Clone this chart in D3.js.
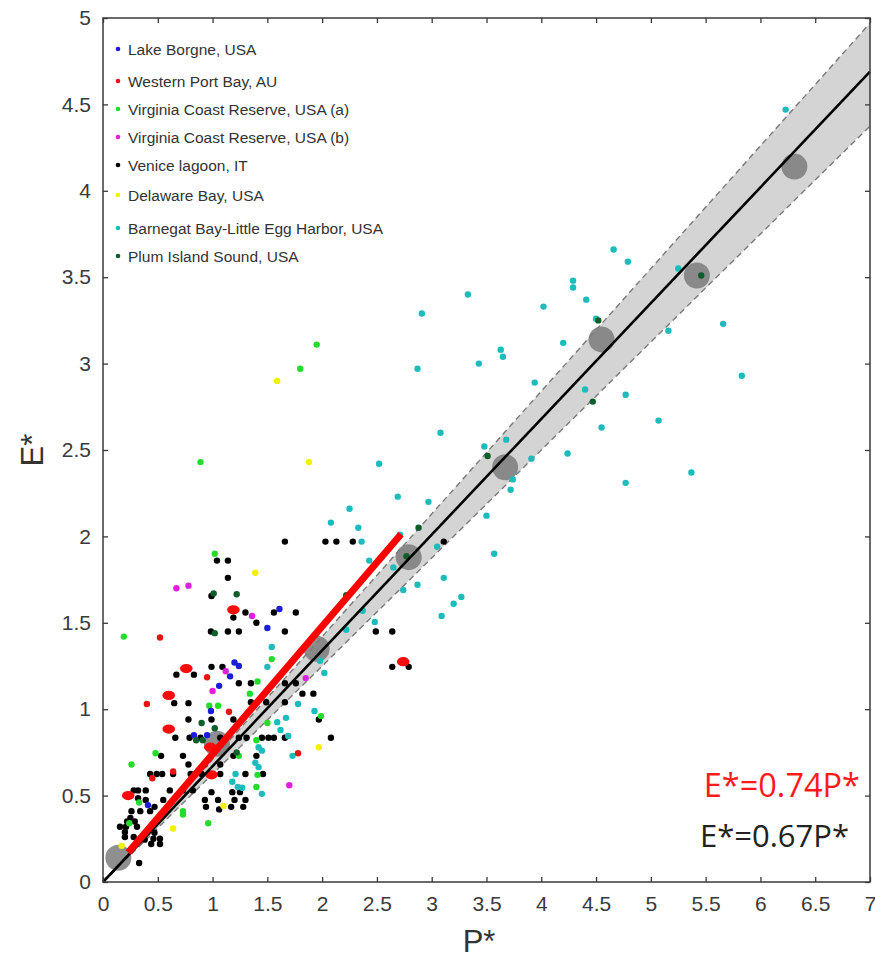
<!DOCTYPE html>
<html>
<head>
<meta charset="utf-8">
<script src="https://cdn.jsdelivr.net/npm/d3@7"></script>
<style>
  body { margin: 0; background: #fff; }
  svg { display: block; }
  text { font-family: "Liberation Sans", Arial, sans-serif; }
</style>
</head>
<body>
<svg id="chart" width="875" height="958"></svg>
<script>
// ---- tick values ----
const xTicks = [0, 0.5, 1, 1.5, 2, 2.5, 3, 3.5, 4, 4.5, 5, 5.5, 6, 6.5, 7];
const yTicks = [0, 0.5, 1, 1.5, 2, 2.5, 3, 3.5, 4, 4.5, 5];

// ---- site observations [P*, E*] ----
const lakeBorgne = [
  [1.61, 1.58], [1.50, 1.47], [1.20, 1.27], [1.16, 1.19], [1.06, 1.135],
  [0.985, 0.99], [0.83, 0.85], [0.95, 0.85], [0.41, 0.445], [1.24, 1.25]
];
const westernPort = [
  [0.52, 1.415], [0.95, 1.185], [0.40, 1.03], [1.15, 0.985], [1.78, 0.745],
  [0.64, 0.64], [0.45, 0.60]
];
const westernPortLarge = [
  [1.19, 1.575], [0.76, 1.235], [0.60, 1.08], [0.60, 0.885], [0.98, 0.78],
  [0.99, 0.62], [0.23, 0.50], [2.74, 1.275]
];
const virginiaA = [
  [1.02, 1.90], [1.95, 3.11], [1.80, 2.97], [0.89, 2.43], [0.19, 1.42],
  [1.54, 1.29], [1.41, 1.16], [1.34, 1.09], [0.97, 1.02], [1.05, 1.02],
  [1.99, 0.96], [1.50, 0.92], [1.40, 0.82], [0.48, 0.745], [1.24, 0.73],
  [0.26, 0.68], [1.41, 0.62], [1.40, 0.55], [0.33, 0.46], [0.73, 0.41],
  [0.73, 0.39], [0.96, 0.34], [0.24, 0.34]
];
const virginiaB = [
  [0.67, 1.70], [0.78, 1.715], [1.36, 1.54], [1.12, 1.22], [1.00, 1.105],
  [1.85, 1.18], [1.70, 0.56]
];
const venice = [
  [1.66, 1.97], [2.03, 1.97], [2.13, 1.97], [2.28, 1.97], [3.11, 1.97],
  [1.04, 1.86], [1.14, 1.86], [1.14, 1.76], [0.99, 1.655],
  [1.30, 1.56], [1.56, 1.56], [1.76, 1.56], [1.19, 1.53], [1.40, 1.50],
  [0.985, 1.45], [1.14, 1.45], [1.24, 1.45], [1.66, 1.45], [2.49, 1.45], [2.64, 1.45],
  [0.99, 1.245], [1.09, 1.245], [2.64, 1.245], [2.79, 1.245],
  [0.67, 1.20], [0.83, 1.20],
  [1.24, 1.15], [1.35, 1.15], [1.66, 1.15], [1.76, 1.15],
  [1.82, 1.09], [1.92, 1.09],
  [0.65, 1.035], [0.78, 1.035], [1.35, 1.04], [1.49, 1.04], [1.66, 1.04],
  [1.97, 0.94], [0.78, 0.94], [0.99, 0.94], [1.19, 0.94], [1.24, 0.92],
  [0.66, 0.835], [0.79, 0.835], [0.89, 0.835], [1.07, 0.835], [1.24, 0.835],
  [1.31, 0.835], [1.45, 0.835], [1.51, 0.835], [1.56, 0.835], [1.66, 0.835], [2.08, 0.835],
  [0.53, 0.73], [0.73, 0.73], [1.19, 0.73], [1.40, 0.73],
  [0.78, 0.68], [1.07, 0.68],
  [0.43, 0.625], [0.49, 0.625], [0.54, 0.625], [0.64, 0.625], [0.80, 0.625],
  [0.90, 0.625], [1.07, 0.625], [1.30, 0.625], [1.46, 0.625],
  [0.28, 0.53], [0.32, 0.53], [0.39, 0.53], [0.61, 0.53], [0.73, 0.53],
  [0.82, 0.53], [0.99, 0.52], [1.18, 0.52], [1.25, 0.52],
  [0.32, 0.485], [0.39, 0.475], [0.55, 0.475], [0.93, 0.475], [1.05, 0.475],
  [1.20, 0.475], [1.30, 0.475],
  [0.26, 0.41], [0.34, 0.41], [0.43, 0.41], [0.47, 0.435],
  [0.94, 0.435], [1.17, 0.435], [1.28, 0.435], [1.06, 0.42],
  [0.25, 0.37], [0.22, 0.35], [0.29, 0.35],
  [0.155, 0.32], [0.21, 0.32], [0.31, 0.32],
  [0.20, 0.29], [0.40, 0.29], [0.47, 0.285],
  [0.20, 0.26], [0.28, 0.26],
  [0.38, 0.245], [0.46, 0.25], [0.52, 0.25], [0.52, 0.22], [0.44, 0.22],
  [0.33, 0.11]
];
const delaware = [
  [1.39, 1.79], [1.59, 2.90], [1.88, 2.43], [1.97, 0.78], [1.10, 0.44],
  [0.64, 0.31], [0.17, 0.21]
];
const barnegat = [
  [6.23, 4.47], [4.66, 3.66], [4.79, 3.59], [5.25, 3.55], [4.29, 3.48],
  [4.29, 3.44], [3.33, 3.40], [4.41, 3.37], [4.02, 3.33], [2.91, 3.29],
  [4.20, 3.12], [5.66, 3.23], [4.50, 3.26], [5.16, 3.19], [3.63, 3.08],
  [3.65, 3.04], [3.43, 3.00], [2.87, 2.97], [5.83, 2.93], [3.94, 2.89],
  [4.40, 2.85], [4.77, 2.82], [5.07, 2.67], [4.55, 2.63], [3.08, 2.60],
  [3.48, 2.52], [3.68, 2.56], [2.52, 2.42], [4.24, 2.48], [3.91, 2.45],
  [3.74, 2.33], [3.72, 2.27], [4.77, 2.31], [5.37, 2.37], [2.69, 2.23],
  [2.97, 2.20], [2.25, 2.16], [2.08, 2.08], [2.33, 2.05], [3.50, 2.12],
  [2.36, 1.97], [2.71, 2.01], [3.05, 1.94], [3.57, 1.90], [2.43, 1.86],
  [2.65, 1.82], [3.11, 1.76], [2.74, 1.69], [2.87, 1.72], [3.27, 1.65],
  [3.20, 1.61], [3.09, 1.54], [2.37, 1.57], [2.48, 1.505], [2.22, 1.46],
  [2.02, 1.21], [1.98, 1.28],
  [1.54, 1.36], [1.50, 1.245], [1.78, 1.03], [1.93, 0.99], [1.59, 0.925],
  [1.67, 0.95], [1.62, 0.88], [1.69, 0.845], [1.73, 0.73], [1.42, 0.78],
  [1.45, 0.76], [1.39, 0.69], [1.42, 0.665], [1.21, 0.625], [1.18, 0.58],
  [1.23, 0.55], [1.27, 0.545], [1.45, 0.51]
];
const plumIsland = [
  [1.01, 1.67], [1.22, 1.665], [1.02, 1.44], [0.90, 0.92], [1.02, 0.89],
  [0.85, 0.82], [0.91, 0.82], [1.22, 0.75], [2.88, 2.05], [2.77, 1.885],
  [3.51, 2.465], [4.47, 2.78], [5.46, 3.51], [4.52, 3.25], [2.22, 1.66], [0.93, 0.68]
];

// ---- binned means [P*, E*] ----
const binMeans = [
  [0.14, 0.14], [1.04, 0.80], [1.95, 1.35], [2.79, 1.88],
  [3.67, 2.40], [4.55, 3.14], [5.42, 3.51], [6.31, 4.14]
];

// ---- fitted relations ----
const fitSlope = 0.67;              // E* = 0.67 P*
const bandSlopes = [0.625, 0.71];   // lower / upper envelope
const fitRange = [0, 7];
const redSlope = 0.74;              // E* = 0.74 P*
const redRange = [0.23, 2.72];

// ---- legend ----
const seriesNames = [
  "Lake Borgne, USA",
  "Western Port Bay, AU",
  "Virginia Coast Reserve, USA (a)",
  "Virginia Coast Reserve, USA (b)",
  "Venice lagoon, IT",
  "Delaware Bay, USA",
  "Barnegat Bay-Little Egg Harbor, USA",
  "Plum Island Sound, USA"
];
const seriesColors = ["#1c1cdc", "#e81414", "#22dd2a", "#e01ee0", "#000000", "#f2f200", "#1cbcbc", "#0e5e2c"];

// ---------------------------------------------------------------
const svg = d3.select("#chart");
const L = 103, R = 870, T = 18, B = 882;
const x = d3.scaleLinear().domain([0, 7]).range([L, R]);
const y = d3.scaleLinear().domain([0, 5]).range([B, T]);

const plot = svg.append("g");

// confidence band (cone around the fit)
const bandPts = [
  [fitRange[0], bandSlopes[1] * fitRange[0]],
  [fitRange[1], bandSlopes[1] * fitRange[1]],
  [fitRange[1], bandSlopes[0] * fitRange[1]],
  [fitRange[0], bandSlopes[0] * fitRange[0]]
];
plot.append("path")
  .attr("d", d3.line().x(d => x(d[0])).y(d => y(d[1]))(bandPts) + "Z")
  .attr("fill", "#d4d4d4");

bandSlopes.forEach(s => {
  plot.append("line")
    .attr("x1", x(fitRange[0])).attr("y1", y(s * fitRange[0]))
    .attr("x2", x(fitRange[1])).attr("y2", y(s * fitRange[1]))
    .attr("stroke", "#7a7a7a").attr("stroke-width", 1.4)
    .attr("stroke-dasharray", "6,4");
});

// binned means
plot.selectAll("circle.bin").data(binMeans).join("circle")
  .attr("class", "bin")
  .attr("cx", d => x(d[0])).attr("cy", d => y(d[1]))
  .attr("r", 13)
  .attr("fill", "#7b7b7b").attr("fill-opacity", 0.85);

// observations
const series = [lakeBorgne, westernPort, virginiaA, virginiaB, venice, delaware, barnegat, plumIsland];
const drawOrder = [4, 6, 2, 3, 0, 5, 1, 7];
drawOrder.forEach(i => {
  plot.append("g").selectAll("circle").data(series[i]).join("circle")
    .attr("cx", d => x(d[0])).attr("cy", d => y(d[1]))
    .attr("r", 3.2)
    .attr("fill", seriesColors[i]);
});
plot.append("g").selectAll("ellipse").data(westernPortLarge).join("ellipse")
  .attr("cx", d => x(d[0])).attr("cy", d => y(d[1]))
  .attr("rx", 6.3).attr("ry", 4.6)
  .attr("fill", "#ff0a0a");

// fit line
plot.append("line")
  .attr("x1", x(fitRange[0])).attr("y1", y(fitSlope * fitRange[0]))
  .attr("x2", x(fitRange[1])).attr("y2", y(fitSlope * fitRange[1]))
  .attr("stroke", "#000").attr("stroke-width", 2.6);

// red relation
plot.append("line")
  .attr("x1", x(redRange[0])).attr("y1", y(redSlope * redRange[0]))
  .attr("x2", x(redRange[1])).attr("y2", y(redSlope * redRange[1]))
  .attr("stroke", "#ff0000").attr("stroke-width", 7);

// ---- axes ----
const axisColor = "#3a3a3a";
function styleAxis(g, showLabels) {
  g.select(".domain").remove();
  g.selectAll(".tick line").attr("stroke", axisColor).attr("stroke-width", 1.3);
  g.selectAll(".tick text")
    .attr("fill", axisColor)
    .style("font-size", "21px");
  if (!showLabels) g.selectAll(".tick text").remove();
}
const fmt = d => String(d);

svg.append("g").attr("transform", `translate(0,${B})`)
  .call(d3.axisBottom(x).tickValues(xTicks).tickSizeInner(-5).tickSizeOuter(0).tickPadding(14).tickFormat(fmt))
  .call(g => styleAxis(g, true));
svg.append("g").attr("transform", `translate(0,${T})`)
  .call(d3.axisTop(x).tickValues(xTicks).tickSizeInner(-5).tickSizeOuter(0))
  .call(g => styleAxis(g, false));
svg.append("g").attr("transform", `translate(${L},0)`)
  .call(d3.axisLeft(y).tickValues(yTicks).tickSizeInner(-5).tickSizeOuter(0).tickPadding(12).tickFormat(fmt))
  .call(g => styleAxis(g, true));
svg.append("g").attr("transform", `translate(${R},0)`)
  .call(d3.axisRight(y).tickValues(yTicks).tickSizeInner(-5).tickSizeOuter(0))
  .call(g => styleAxis(g, false));

svg.append("rect")
  .attr("x", L).attr("y", T).attr("width", R - L).attr("height", B - T)
  .attr("fill", "none").attr("stroke", axisColor).attr("stroke-width", 1.5);

// axis titles
svg.append("text")
  .attr("x", 479).attr("y", 952)
  .attr("text-anchor", "middle")
  .attr("fill", "#333").style("font-size", "31px")
  .text("P*");
svg.append("text")
  .attr("transform", `translate(43,${(T + B) / 2}) rotate(-90)`)
  .attr("text-anchor", "middle")
  .attr("fill", "#333").style("font-size", "31px")
  .text("E*");

// ---- legend ----
const legendY = [55, 87, 115, 143, 171, 201, 234, 262];
const legend = svg.append("g");
seriesNames.forEach((name, i) => {
  legend.append("circle")
    .attr("cx", 118).attr("cy", legendY[i] - 6)
    .attr("r", 2.3).attr("fill", seriesColors[i]);
  legend.append("text")
    .attr("x", 128).attr("y", legendY[i])
    .attr("fill", "#333").style("font-size", "15.5px")
    .text(name);
});

// ---- equations ----
svg.append("text")
  .attr("x", 860).attr("y", 797).attr("text-anchor", "end")
  .attr("fill", "#ff1a1a").style("font-family", "'Open Sans', sans-serif").style("font-size", "32.5px")
  .text(`E*=${redSlope}P*`);
svg.append("text")
  .attr("x", 849).attr("y", 847).attr("text-anchor", "end")
  .attr("fill", "#222").style("font-family", "'Open Sans', sans-serif").style("font-size", "31px")
  .text(`E*=${fitSlope}P*`);
</script>
</body>
</html>
